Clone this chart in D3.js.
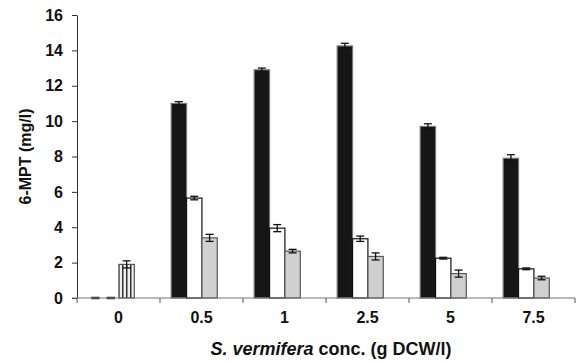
<!DOCTYPE html>
<html lang="en">
<head>
<meta charset="utf-8">
<title>6-MPT vs S. vermifera conc.</title>
<script src="https://cdn.jsdelivr.net/npm/d3@7"></script>
<style>
  body { margin: 0; background: #fff; }
  svg { font-family: "Liberation Sans", Arial, sans-serif; font-weight: bold; }
</style>
</head>
<body>
<svg id="chart" width="580" height="361"></svg>
<script>
// data
var concs = ["0", "0.5", "1", "2.5", "5", "7.5"];
var seriesA = [0, 11.0, 12.9, 14.25, 9.7, 7.9];     // black
var errA    = [0, 0.1, 0.1, 0.15, 0.15, 0.2];
var seriesB = [0, 5.65, 3.95, 3.35, 2.25, 1.65];    // white
var errB    = [0, 0.1, 0.2, 0.15, 0.05, 0.05];
var seriesC = [1.9, 3.4, 2.65, 2.35, 1.38, 1.13];   // grey (first one hatched)
var errC    = [0.2, 0.2, 0.1, 0.2, 0.2, 0.1];
var yTicks = [0, 2, 4, 6, 8, 10, 12, 14, 16];

var svg = d3.select("#chart");
var margin = {left: 77, right: 5, top: 15, bottom: 63};
var W = 580, H = 361;

var x = d3.scaleBand().domain(concs).range([margin.left, W - margin.right]);
var y = d3.scaleLinear().domain([0, 16]).range([H - margin.bottom, margin.top]);

// vertical stripe pattern for the control bar
var defs = svg.append("defs");
var pat = defs.append("pattern")
  .attr("id", "stripes").attr("patternUnits", "userSpaceOnUse")
  .attr("width", 4).attr("height", 4);
pat.append("rect").attr("width", 4).attr("height", 4).attr("fill", "#eee");
pat.append("rect").attr("x", 2).attr("width", 1.5).attr("height", 4).attr("fill", "#333");

// bars sit left in each group: offset ~13%, each ~19% wide
var bw = x.bandwidth() * 0.185;
function barX(c, si) { return x(c) + x.bandwidth() * 0.135 + si * bw; }

var series = [
  {vals: seriesA, err: errA, fill: "#161616", stroke: "#777"},
  {vals: seriesB, err: errB, fill: "#fff", stroke: "#111"},
  {vals: seriesC, err: errC, fill: "#d0d0d0", stroke: "#555"}
];

series.forEach(function(s, si) {
  var g = svg.append("g");
  var nz = concs.filter(function(c, i) { return s.vals[i] > 0; });
  var z = concs.filter(function(c, i) { return s.vals[i] == 0; });

  g.selectAll("rect").data(nz).enter().append("rect")
    .attr("x", function(c) { return barX(c, si); })
    .attr("y", function(c) { return y(s.vals[concs.indexOf(c)]); })
    .attr("width", bw)
    .attr("height", function(c) { return y(0) - y(s.vals[concs.indexOf(c)]); })
    .attr("fill", function(c) { return (si == 2 && c == "0") ? "url(#stripes)" : s.fill; })
    .attr("stroke", s.stroke)
    .attr("stroke-width", 1.2);

  // zero-height bars show as short dark dashes on the axis
  g.selectAll(".zero").data(z).enter().append("line")
    .attr("x1", function(c) { return barX(c, si) + 3; })
    .attr("x2", function(c) { return barX(c, si) + bw - 4; })
    .attr("y1", y(0)).attr("y2", y(0))
    .attr("stroke", "#222").attr("stroke-width", 2.5);

  // error bars
  var eb = g.selectAll(".eb").data(concs.filter(function(c, i) { return s.err[i] > 0; }))
    .enter().append("g").attr("class", "eb");
  eb.each(function(c) {
    var i = concs.indexOf(c);
    var cx = barX(c, si) + bw / 2;
    var lo = y(s.vals[i] - s.err[i]), hi = y(s.vals[i] + s.err[i]);
    var e = d3.select(this);
    e.append("line").attr("x1", cx).attr("x2", cx).attr("y1", lo).attr("y2", hi);
    e.append("line").attr("x1", cx - 4).attr("x2", cx + 4).attr("y1", lo).attr("y2", lo);
    e.append("line").attr("x1", cx - 4).attr("x2", cx + 4).attr("y1", hi).attr("y2", hi);
  });
  eb.selectAll("line").attr("stroke", "#111").attr("stroke-width", 1.3);
});

// y axis
var yAxis = svg.append("g")
  .attr("transform", "translate(" + margin.left + ",0)")
  .call(d3.axisLeft(y).tickValues(yTicks).tickSize(5).tickSizeOuter(0).tickPadding(9));
yAxis.select(".domain").attr("stroke", "#333");
yAxis.selectAll(".tick line").attr("stroke", "#333");
yAxis.selectAll("text").attr("font-size", 16).attr("font-weight", "bold").attr("fill", "#111")
  .attr("font-family", "Liberation Sans, Arial, sans-serif");

// x axis with ticks at category borders
var xAxis = svg.append("g").attr("transform", "translate(0," + y(0) + ")");
xAxis.append("line").attr("x1", margin.left - 5).attr("x2", W - margin.right)
  .attr("stroke", "#777").attr("stroke-width", 1.2);
var borders = concs.map(function(c) { return x(c); }).concat([x(concs[concs.length - 1]) + x.bandwidth()]);
xAxis.selectAll(".bt").data(borders).enter().append("line")
  .attr("x1", function(d) { return d; }).attr("x2", function(d) { return d; })
  .attr("y1", 0).attr("y2", 5).attr("stroke", "#555");
xAxis.selectAll("text").data(concs).enter().append("text")
  .attr("x", function(c) { return x(c) + x.bandwidth() / 2; })
  .attr("y", 25).attr("text-anchor", "middle")
  .attr("font-size", 16).attr("fill", "#111")
  .text(function(c) { return c; });

// axis titles
svg.append("text")
  .attr("transform", "translate(31," + ((margin.top + y(0)) / 2) + ") rotate(-90)")
  .attr("text-anchor", "middle").attr("font-size", 16).attr("fill", "#111")
  .text("6-MPT (mg/l)");

var xt = svg.append("text")
  .attr("x", (margin.left + W - margin.right) / 2 + 5).attr("y", 355)
  .attr("text-anchor", "middle").attr("font-size", 18).attr("fill", "#111");
xt.append("tspan").attr("font-style", "italic").text("S. vermifera");
xt.append("tspan").text(" conc. (g DCW/l)");
</script>
</body>
</html>
